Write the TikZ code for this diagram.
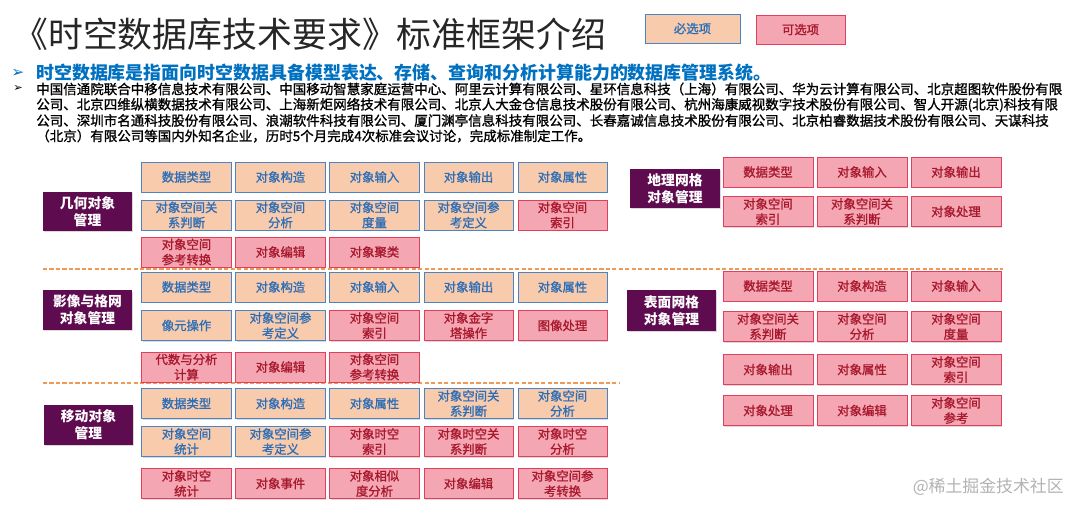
\documentclass[tikz,border=0pt]{standalone}
\usepackage{fontspec}
\setmainfont{Noto Sans CJK SC}
\newfontfamily\symfont{DejaVu Sans}
\newfontfamily\heavyfont{Noto Sans CJK SC}[FakeBold=1.2]
\usetikzlibrary{shadows}

\definecolor{reqfill}{HTML}{F8CBAD}
\definecolor{reqline}{HTML}{4A84C4}
\definecolor{reqtext}{HTML}{2E6EB5}
\definecolor{optfill}{HTML}{F4A7B2}
\definecolor{optline}{HTML}{E0405C}
\definecolor{opttext}{HTML}{A8182E}
\definecolor{labfill}{HTML}{5F0B4F}
\definecolor{introblue}{HTML}{0070C0}
\definecolor{sepline}{HTML}{EE9A55}
\definecolor{titlegray}{HTML}{262626}

\tikzset{
  box/.style={draw, line width=0.7pt, minimum width=2.225cm, minimum height=0.75cm,
    inner sep=0pt, align=center, font=\heavyfont\fontsize{8.8}{10.8}\selectfont,
    drop shadow={shadow xshift=0.8pt, shadow yshift=-0.8pt, opacity=0.3}},
  req/.style={box, fill=reqfill, draw=reqline, text=reqtext},
  opt/.style={box, fill=optfill, draw=optline, text=opttext},
  wide/.style={minimum width=2.25cm},
  group/.style={fill=labfill, text=white, minimum width=2.225cm, minimum height=0.975cm,
    inner sep=0pt, align=center, font=\fontsize{9.8}{12}\selectfont\bfseries,
    drop shadow={shadow xshift=1pt, shadow yshift=-1pt, opacity=0.3}},
  textline/.style={anchor=west, inner sep=0pt},
  sep/.style={draw=sepline, line width=0.9pt, dash pattern=on 3pt off 1.6pt},
}

\begin{document}
\begin{tikzpicture}[x=0.025cm, y=-0.025cm]
  \useasboundingbox (0,0) rectangle (1080,513);

  % title and legend
  \node[textline, font=\fontsize{24.8}{28}\selectfont, text=titlegray] (title) at (13,34) {《时空数据库技术要求》标准框架介绍};
  \node[req, minimum width=2.375cm, minimum height=0.725cm] (reqkey) at (692.5,28.5) {必选项};
  \node[opt, minimum height=0.725cm] (optkey) at (800.5,29.5) {可选项};

  % introduction
  \node[textline, text=introblue, font=\symfont\fontsize{11}{12}\selectfont] (bul1) at (11,73) {➢};
  \node[textline, text=introblue, font=\fontsize{12.75}{14}\selectfont\bfseries] (intro) at (36,73) {时空数据库是指面向时空数据具备模型表达、存储、查询和分析计算能力的数据库管理系统。};
  \node[textline, font=\symfont\fontsize{8}{9}\selectfont] (bul2) at (13,89) {➢};
  \node[textline, font=\heavyfont\fontsize{9.6}{11}\selectfont] (orgs1) at (36,89) {中国信通院联合中移信息技术有限公司、中国移动智慧家庭运营中心、阿里云计算有限公司、星环信息科技（上海）有限公司、华为云计算有限公司、北京超图软件股份有限};
  \node[textline, font=\heavyfont\fontsize{9.6}{11}\selectfont] (orgs2) at (36,105) {公司、北京四维纵横数据技术有限公司、上海新炬网络技术有限公司、北京人大金仓信息技术股份有限公司、杭州海康威视数字技术股份有限公司、智人开源(北京)科技有限};
  \node[textline, font=\heavyfont\fontsize{9.6}{11}\selectfont] (orgs3) at (36,120.5) {公司、深圳市名通科技股份有限公司、浪潮软件科技有限公司、厦门渊亭信息科技有限公司、长春嘉诚信息技术股份有限公司、北京柏睿数据技术股份有限公司、天谋科技};
  \node[textline, font=\heavyfont\fontsize{9.6}{11}\selectfont] (orgs4) at (36,136) {（北京）有限公司等国内外知名企业，历时5个月完成4次标准会议讨论，完成标准制定工作。};

  % separators
  \draw[sep] (43,269) -- (1003,269);
  \draw[sep] (43,383) -- (620,383);

  % geometry objects
  \node[group] (geo) at (87.5,211.5) {几何对象\\管理};
  \node[req] (g11) at (186.5,177) {数据类型};
  \node[req] (g12) at (280.5,177) {对象构造};
  \node[req] (g13) at (374.5,177) {对象输入};
  \node[req] (g14) at (468.5,177) {对象输出};
  \node[req] (g15) at (562.5,177) {对象属性};
  \node[req] (g21) at (186.5,215) {对象空间关\\系判断};
  \node[req] (g22) at (280.5,215) {对象空间\\分析};
  \node[req] (g23) at (374.5,215) {对象空间\\度量};
  \node[req] (g24) at (468.5,215) {对象空间参\\考定义};
  \node[opt] (g25) at (562.5,215) {对象空间\\索引};
  \node[opt] (g31) at (186.5,252) {对象空间\\参考转换};
  \node[opt] (g32) at (280.5,252) {对象编辑};
  \node[opt] (g33) at (374.5,252) {对象聚类};

  % image and raster objects
  \node[group] (img) at (87.5,310) {影像与格网\\对象管理};
  \node[req] (i11) at (186.5,287) {数据类型};
  \node[req] (i12) at (280.5,287) {对象构造};
  \node[req] (i13) at (374.5,287) {对象输入};
  \node[req] (i14) at (468.5,287) {对象输出};
  \node[req] (i15) at (562.5,287) {对象属性};
  \node[req] (i21) at (186.5,325.5) {像元操作};
  \node[req] (i22) at (280.5,325.5) {对象空间参\\考定义};
  \node[opt] (i23) at (374.5,325.5) {对象空间\\索引};
  \node[opt] (i24) at (468.5,325.5) {对象金字\\塔操作};
  \node[opt] (i25) at (562.5,325.5) {图像处理};
  \node[opt] (i31) at (186.5,367) {代数与分析\\计算};
  \node[opt] (i32) at (280.5,367) {对象编辑};
  \node[opt] (i33) at (374.5,367) {对象空间\\参考转换};

  % moving objects
  \node[group] (mov) at (88.5,425) {移动对象\\管理};
  \node[req] (m11) at (186.5,403.5) {数据类型};
  \node[req] (m12) at (280.5,403.5) {对象构造};
  \node[req] (m13) at (374.5,403.5) {对象属性};
  \node[req] (m14) at (468.5,403.5) {对象空间关\\系判断};
  \node[req] (m15) at (562.5,403.5) {对象空间\\分析};
  \node[req] (m21) at (186.5,441.5) {对象空间\\统计};
  \node[req] (m22) at (280.5,441.5) {对象空间参\\考定义};
  \node[opt] (m23) at (374.5,441.5) {对象时空\\索引};
  \node[opt] (m24) at (468.5,441.5) {对象时空关\\系判断};
  \node[opt] (m25) at (562.5,441.5) {对象时空\\分析};
  \node[opt] (m31) at (186.5,483.5) {对象时空\\统计};
  \node[opt] (m32) at (280.5,483.5) {对象事件};
  \node[opt] (m33) at (374.5,483.5) {对象相似\\度分析};
  \node[opt] (m34) at (468.5,483.5) {对象编辑};
  \node[opt] (m35) at (562.5,483.5) {对象空间参\\考转换};

  % geographic grid objects
  \node[group, minimum width=2.25cm] (grid) at (675,188.5) {地理网格\\对象管理};
  \node[opt, wide] (d11) at (768,172) {数据类型};
  \node[opt, wide] (d12) at (862,172) {对象输入};
  \node[opt, wide] (d13) at (956,172) {对象输出};
  \node[opt, wide] (d21) at (768,211.5) {对象空间\\索引};
  \node[opt, wide] (d22) at (862,211.5) {对象空间关\\系判断};
  \node[opt, wide] (d23) at (956,211.5) {对象处理};

  % surface mesh objects
  \node[group, minimum height=1.025cm] (mesh) at (671.5,310.5) {表面网格\\对象管理};
  \node[opt, wide] (s11) at (768,286) {数据类型};
  \node[opt, wide] (s12) at (862,286) {对象构造};
  \node[opt, wide] (s13) at (956,286) {对象输入};
  \node[opt, wide] (s21) at (768,326.5) {对象空间关\\系判断};
  \node[opt, wide] (s22) at (862,326.5) {对象空间\\分析};
  \node[opt, wide] (s23) at (956,326.5) {对象空间\\度量};
  \node[opt, wide] (s31) at (768,369.5) {对象输出};
  \node[opt, wide] (s32) at (862,369.5) {对象属性};
  \node[opt, wide] (s33) at (956,369.5) {对象空间\\索引};
  \node[opt, wide] (s41) at (768,410.5) {对象处理};
  \node[opt, wide] (s42) at (862,410.5) {对象编辑};
  \node[opt, wide] (s43) at (956,410.5) {对象空间\\参考};

  \node[anchor=east, inner sep=0pt, text=black!30, font=\fontsize{12}{14}\selectfont] (mark) at (1064,487) {@稀土掘金技术社区};
\end{tikzpicture}
\end{document}
